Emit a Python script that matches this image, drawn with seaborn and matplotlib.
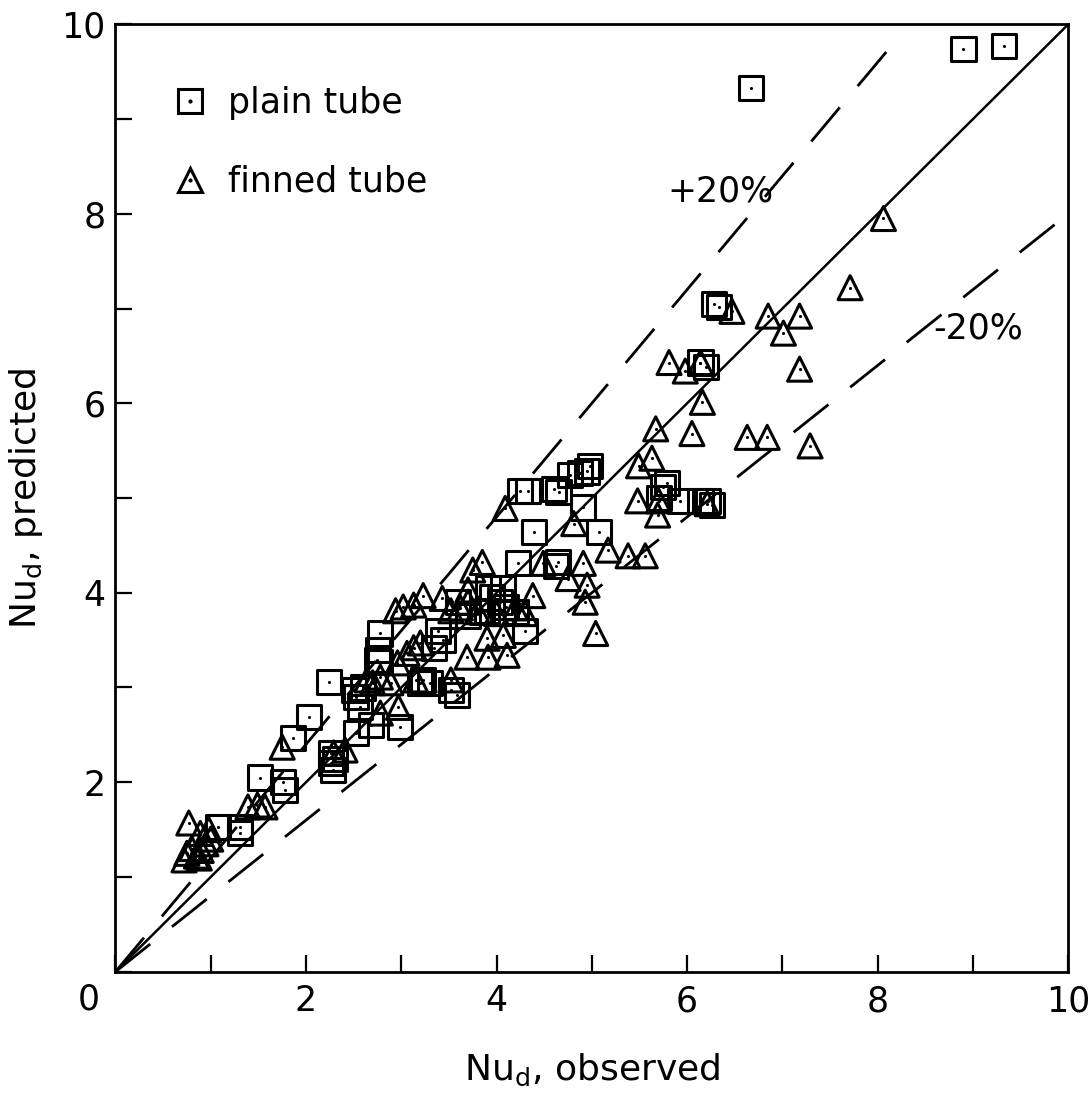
import numpy as np
import pandas as pd
import matplotlib
matplotlib.use("Agg")
import matplotlib.pyplot as plt
import seaborn as sns
from matplotlib.lines import Line2D

# ---------------- data ----------------
plain_obs = [9.33, 8.90, 6.67, 6.28, 6.33, 6.14, 6.20, 5.79, 5.75, 5.93, 6.14, 6.22,
             6.26, 5.70, 4.98, 4.95, 4.88, 4.77, 4.65, 4.60, 4.25, 4.33, 4.91, 5.07,
             4.39, 4.64, 4.62, 4.22, 4.30, 4.04, 4.10, 4.20, 3.91, 4.07, 3.90, 4.07,
             3.95, 3.85, 3.70, 3.60, 3.39, 3.44, 3.34, 2.78, 2.76, 2.75, 2.78, 3.23,
             3.20, 2.24, 2.50, 2.60, 2.52, 2.57, 2.68, 2.99, 2.52, 2.26, 2.26, 2.28,
             2.30, 2.03, 1.86, 1.76, 1.78, 1.52, 1.08, 1.31, 1.31, 3.52, 3.58, 3.30]
plain_pred = [9.77, 9.74, 9.33, 7.05, 7.02, 6.43, 6.38, 5.16, 5.12, 4.97, 4.97, 4.97,
              4.93, 5.00, 5.34, 5.28, 5.26, 5.24, 5.06, 5.10, 5.07, 5.07, 4.90, 4.64,
              4.64, 4.32, 4.28, 4.31, 3.60, 3.90, 3.85, 3.80, 4.05, 4.05, 3.81, 3.79,
              3.95, 3.80, 3.75, 3.90, 3.60, 3.50, 3.42, 3.57, 3.40, 3.29, 3.27, 3.08,
              3.05, 3.06, 2.97, 3.00, 2.90, 2.79, 2.60, 2.58, 2.52, 2.31, 2.20, 2.13,
              2.25, 2.69, 2.47, 2.00, 1.92, 2.05, 1.53, 1.53, 1.46, 2.97, 2.92, 3.05]

finned_obs = [8.06, 7.71, 7.18, 6.85, 7.01, 7.18, 6.47, 5.81, 5.98, 6.14, 6.16, 5.67,
              6.05, 6.63, 6.84, 7.29, 5.63, 5.49, 5.48, 5.70, 6.21, 5.69, 4.09, 4.81,
              5.17, 5.38, 5.56, 4.49, 4.91, 4.75, 4.95, 4.38, 4.93, 5.04, 3.85, 3.75,
              3.70, 3.70, 3.23, 3.43, 3.02, 3.13, 2.94, 3.52, 3.62, 3.80, 4.00, 4.20,
              4.30, 3.90, 4.07, 3.69, 3.91, 4.11, 3.13, 3.06, 3.20, 2.96, 2.70, 2.89,
              3.15, 3.52, 2.78, 2.64, 2.97, 2.78, 2.41, 2.29, 1.75, 1.39, 1.49, 1.57,
              0.77, 0.89, 0.98, 0.75, 0.80, 0.85, 0.90, 0.95, 0.88, 0.72, 1.00]
finned_pred = [7.95, 7.22, 6.92, 6.92, 6.74, 6.36, 6.97, 6.43, 6.34, 6.43, 6.01, 5.73,
               5.68, 5.64, 5.64, 5.55, 5.42, 5.34, 4.97, 4.97, 4.94, 4.82, 4.89, 4.73,
               4.45, 4.39, 4.39, 4.31, 4.31, 4.15, 4.08, 3.97, 3.90, 3.57, 4.32, 4.24,
               4.03, 3.90, 3.97, 3.94, 3.85, 3.87, 3.81, 3.81, 3.84, 3.80, 3.78, 3.84,
               3.78, 3.52, 3.55, 3.32, 3.32, 3.34, 3.42, 3.36, 3.47, 3.26, 3.05, 3.05,
               3.08, 3.08, 3.11, 3.08, 2.79, 2.73, 2.34, 2.31, 2.37, 1.74, 1.76, 1.74,
               1.57, 1.46, 1.50, 1.25, 1.30, 1.22, 1.28, 1.35, 1.20, 1.18, 1.40]

perfect_x = [0, 10]
perfect_y = [0, 10]
plus20_x = [0, 8.2]
plus20_y = [0, 9.84]
minus20_x = [0, 9.95]
minus20_y = [0, 7.96]

tick_values = [0, 2, 4, 6, 8, 10]
tick_labels = ["", "2", "4", "6", "8", "10"]
minor_values = [1, 3, 5, 7, 9]

# ---------------- figure ----------------
sns.set_theme(style="white")
plt.rcParams["font.family"] = ["DejaVu Sans"]
plt.rcParams["mathtext.default"] = "regular"
plt.rcParams["text.color"] = "black"
plt.rcParams["axes.labelcolor"] = "black"
plt.rcParams["xtick.color"] = "black"
plt.rcParams["ytick.color"] = "black"

fig = plt.figure(figsize=(10.89, 11.03), dpi=100)
ax = fig.add_axes([0.106, 0.119, 0.875, 0.859])

plain = pd.DataFrame({"obs": plain_obs, "pred": plain_pred})
finned = pd.DataFrame({"obs": finned_obs, "pred": finned_pred})

# reference lines
ax.plot(perfect_x, perfect_y, color="black", lw=1.8, zorder=1)
ax.plot(plus20_x, plus20_y, color="black", lw=2.0, dashes=(16, 10), zorder=1)
ax.plot(minus20_x, minus20_y, color="black", lw=2.0, dashes=(16, 10), zorder=1)

msize = 300
sns.scatterplot(data=plain, x="obs", y="pred", marker="s", s=msize,
                facecolor="none", edgecolor="black", linewidth=2.2, ax=ax, zorder=3)
sns.scatterplot(data=finned, x="obs", y="pred", marker="^", s=msize,
                facecolor="none", edgecolor="black", linewidth=2.2, ax=ax, zorder=3)
sns.scatterplot(data=plain, x="obs", y="pred", marker="o", s=5,
                color="black", linewidth=0, ax=ax, zorder=4)
sns.scatterplot(data=finned, x="obs", y="pred", marker="o", s=5,
                color="black", linewidth=0, ax=ax, zorder=4)

ax.set_xlim(0, 10)
ax.set_ylim(0, 10)
ax.set_xticks(tick_values)
ax.set_xticklabels(tick_labels)
ax.set_yticks(tick_values)
ax.set_yticklabels(tick_labels)
ax.set_xticks(minor_values, minor=True)
ax.set_yticks(minor_values, minor=True)
for which in ("major", "minor"):
    ax.tick_params(which=which, direction="in", length=12, width=1.6, color="black",
                   bottom=True, left=True, top=False, right=False)
ax.tick_params(axis="x", which="major", labelsize=25, pad=9, labelcolor="black")
ax.tick_params(axis="y", which="major", labelsize=25, pad=7, labelcolor="black")
for sp in ax.spines.values():
    sp.set_linewidth(2.0)
    sp.set_color("black")

ax.annotate("0", xy=(0, 0), xycoords="data", xytext=(-19, -8),
            textcoords="offset points", ha="center", va="top", fontsize=25,
            color="black")

ax.set_xlabel("Nu$_{d}$, observed", fontsize=26, labelpad=24, color="black")
ax.set_ylabel("Nu$_{d}$, predicted", fontsize=26, labelpad=12, color="black")

ax.text(6.35, 8.24, "+20%", fontsize=25, ha="center", va="center", color="black")
ax.text(9.05, 6.79, "-20%", fontsize=25, ha="center", va="center", color="black")

# legend
dot = Line2D([], [], marker="o", ms=2, color="black", ls="none")
sq = Line2D([], [], marker="s", ms=17, mfc="none", mec="black", mew=2.2, ls="none")
tr = Line2D([], [], marker="^", ms=17, mfc="none", mec="black", mew=2.2, ls="none")
leg = ax.legend([(sq, dot), (tr, dot)], ["plain tube", "finned tube"],
                loc="upper left", bbox_to_anchor=(0.06, 0.935), frameon=False,
                fontsize=25, handlelength=1.0, handletextpad=0.6, labelspacing=1.3,
                borderpad=0, borderaxespad=0)
for t in leg.get_texts():
    t.set_color("black")

fig.savefig("out.png", dpi=100, facecolor="white")
